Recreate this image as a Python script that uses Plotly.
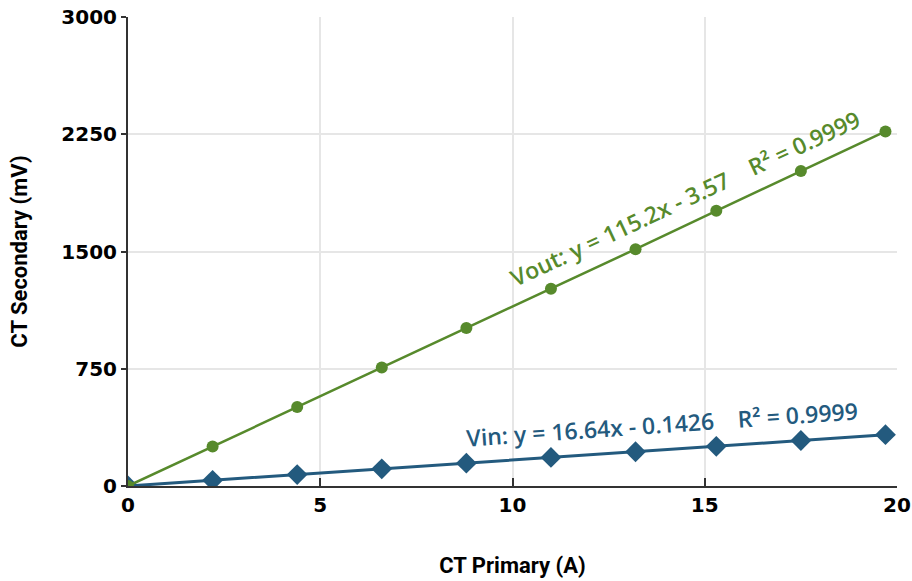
import plotly.graph_objects as go

# CT primary current (A)
primary_a = [0, 2.2, 4.4, 6.6, 8.8, 11.0, 13.2, 15.3, 17.5, 19.7]
# Secondary output voltage (mV)
vout_mv = [0, 252, 505, 758, 1010, 1262, 1515, 1760, 2015, 2268]
# Secondary input voltage (mV)
vin_mv = [0, 36, 73, 110, 146, 183, 219, 254, 291, 328]

vout_label = "Vout: y = 115.2x - 3.57    R² = 0.9999"
vin_label = "Vin: y = 16.64x - 0.1426    R² = 0.9999"

green = "#578a2c"
blue = "#235a7e"
wide_font = "'DejaVu Sans', sans-serif"
title_font = "Roboto, sans-serif"
note_font = "'Open Sans', 'DejaVu Sans', sans-serif"

fig = go.Figure()
fig.add_trace(go.Scatter(
    x=primary_a, y=vin_mv, mode="lines+markers", name="Vin",
    line=dict(color=blue, width=3),
    marker=dict(symbol="diamond", size=16, color=blue),
))
fig.add_trace(go.Scatter(
    x=primary_a, y=vout_mv, mode="lines+markers", name="Vout",
    line=dict(color=green, width=2.5),
    marker=dict(symbol="circle", size=12, color=green),
))

fig.add_annotation(
    x=14.5, y=1840, text=vout_label, showarrow=False, textangle=-25,
    font=dict(family=note_font, size=23, color=green, weight=600),
)
fig.add_annotation(
    x=13.9, y=395, text=vin_label, showarrow=False, textangle=-4,
    font=dict(family=note_font, size=23, color=blue, weight=600),
)

fig.update_layout(
    width=912, height=581,
    margin=dict(l=128, r=15, t=17, b=95),
    plot_bgcolor="white", paper_bgcolor="white",
    showlegend=False,
    font=dict(family=wide_font, color="black"),
)
fig.update_xaxes(
    range=[0, 20], tickvals=[0, 5, 10, 15, 20], automargin=False,
    showline=True, linecolor="#333", linewidth=2,
    ticks="inside", ticklen=8, tickcolor="#333", tickwidth=1.5,
    showgrid=True, gridcolor="#e6e6e6", gridwidth=1.5, zeroline=False,
    tickfont=dict(size=20, weight="bold", family=wide_font),
    title=dict(text="CT Primary (A)", standoff=42,
               font=dict(size=22, weight="bold", family=title_font)),
)
fig.update_yaxes(
    range=[0, 3000], tickvals=[0, 750, 1500, 2250, 3000], automargin=False,
    showline=True, linecolor="#333", linewidth=2,
    ticks="outside", ticklen=5, tickcolor="#333", tickwidth=1.5,
    showgrid=True, gridcolor="#e6e6e6", gridwidth=1.5, zeroline=False,
    tickfont=dict(size=20, weight="bold", family=wide_font),
    title=dict(text="CT Secondary (mV)", standoff=28,
               font=dict(size=22, weight="bold", family=title_font)),
)

fig.write_html("out.html")
